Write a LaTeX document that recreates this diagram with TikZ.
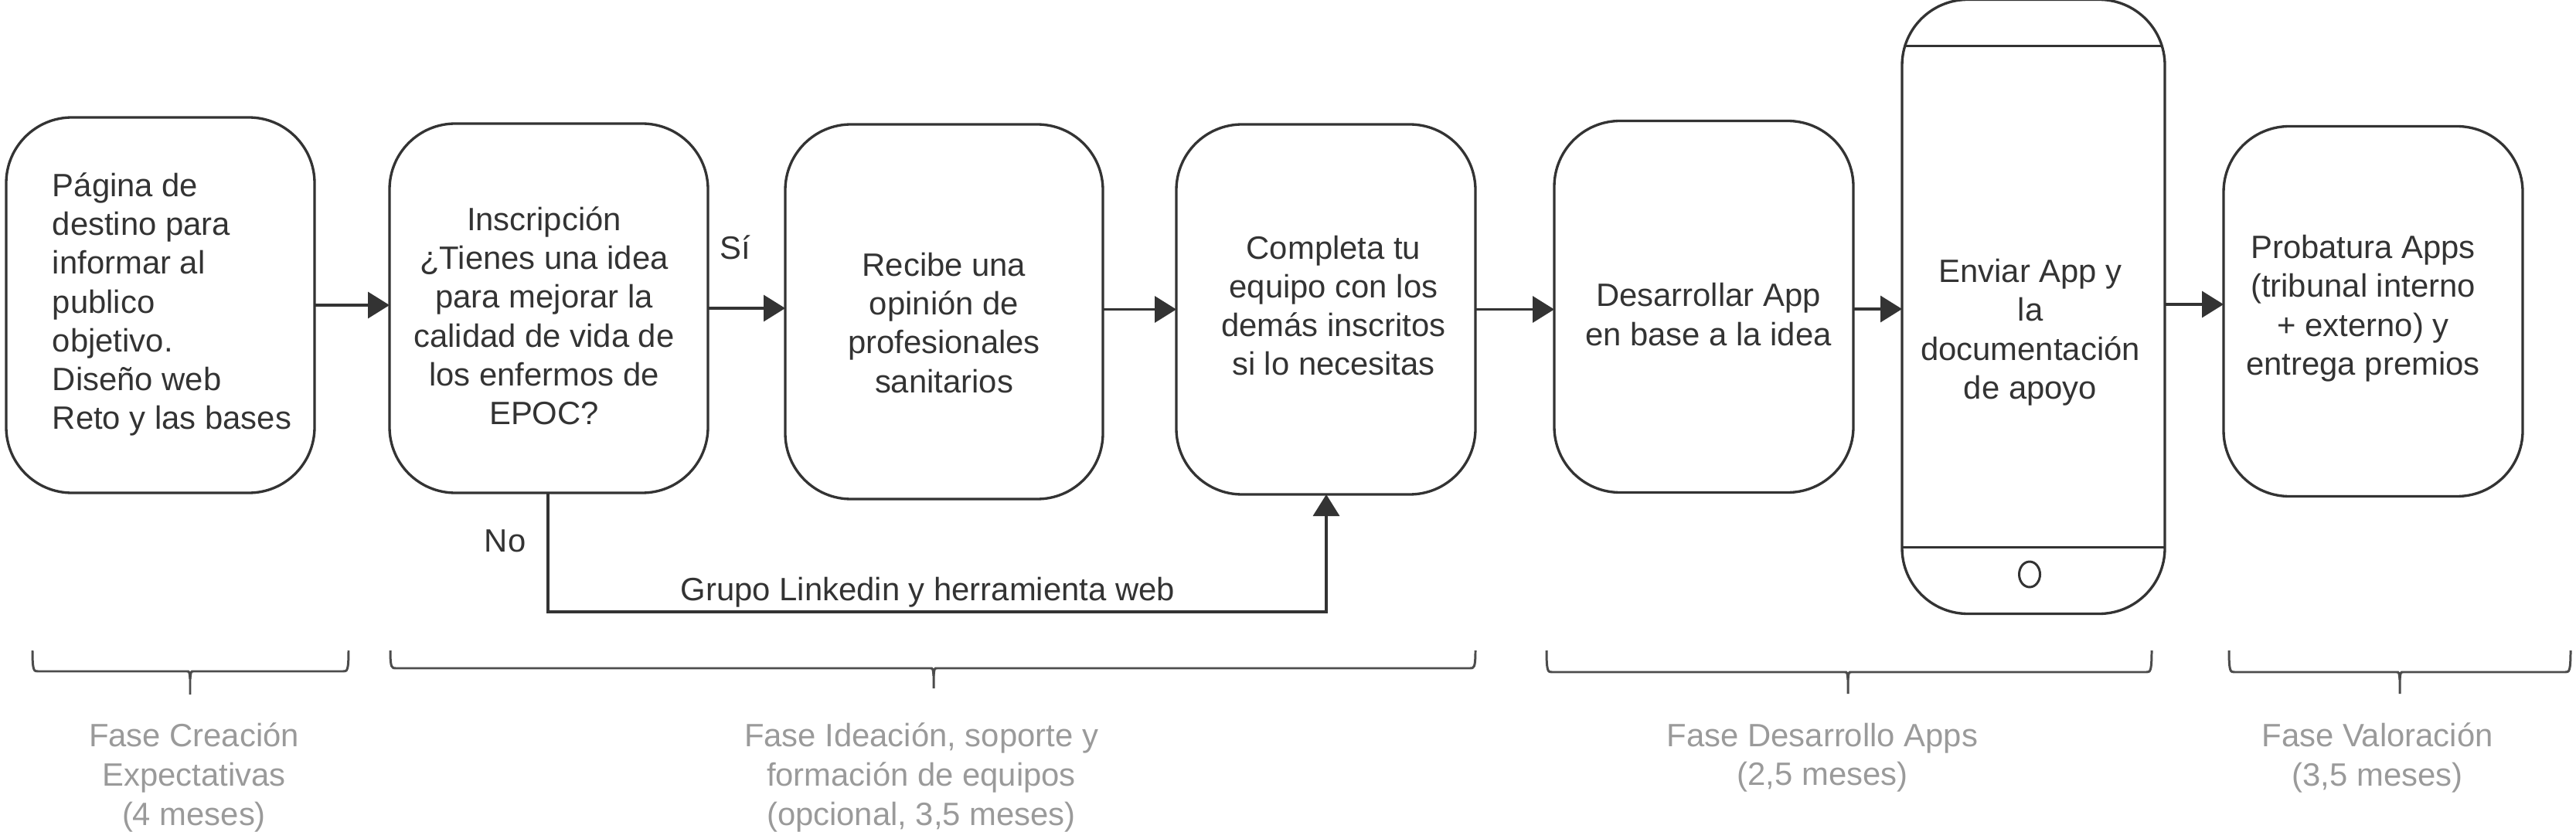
\documentclass[tikz,border=0pt]{standalone}
\usepackage{fontspec}
\setmainfont{Liberation Sans}
\usetikzlibrary{positioning,arrows.meta,shapes.geometric}
\definecolor{trazo}{HTML}{333333}
\definecolor{fase}{HTML}{9A9A9A}
\newcommand{\bajar}[1]{\rule{0pt}{\dimexpr 0.33cm+2\dimexpr #1\relax\relax}}
\newcommand{\subir}[1]{\rule[-\dimexpr 0.15cm+2\dimexpr #1\relax\relax]{0pt}{0pt}}
\newcommand{\llave}[6]{
\draw[llavetrazo] (#1,-8.42) .. controls (#1,-#4) and (#1+.02,-#4) .. (#1+.07,-#4) -- (#2-.04,-#4)
 .. controls (#2-.01,-#4) .. (#2,-#4-.1) -- (#2,-#5);
\draw[llavetrazo] (#3,-8.42) .. controls (#3,-#4) and (#3-.02,-#4) .. (#3-.07,-#4) -- (#2+.04,-#4)
 .. controls (#2+.01,-#4) .. (#2,-#4-.1);
\coordinate (#6) at (#2,-#5);
}
\tikzset{
  caja/.style={draw=trazo, line width=0.95pt, rounded corners=0.85cm, outer sep=0pt, align=center,
    text=trazo, font=\fontsize{11.9}{14.3}\selectfont},
  flecha/.style={draw=trazo, line width=0.95pt, -{Triangle[length=0.28cm,width=0.34cm]}},
  rotulo/.style={text=trazo, inner sep=0pt, font=\fontsize{11.9}{14.3}\selectfont},
  llavetrazo/.style={draw=black!70, line width=0.85pt},
  faselabel/.style={text=fase, align=center, anchor=north, inner sep=0pt, font=\fontsize{11.9}{14.5}\selectfont},
}
\begin{document}
\begin{tikzpicture}
\useasboundingbox (0,0) rectangle (33.33,-10.77);
\node [caja, minimum width=3.99cm, minimum height=4.86cm] (destino) at (2.075,-3.95)
  {\hspace*{0.3cm}\begin{tabular}{@{}l@{}}Página de\\destino para\\informar al\\publico\\objetivo.\\Diseño web\\Reto y las bases\end{tabular}};
\node [caja, minimum width=4.12cm, minimum height=4.78cm, right=0.97cm of destino, yshift=-0.04cm] (inscripcion)
  {\begin{tabular}{@{}c@{}}\bajar{0.16cm}Inscripción\\¿Tienes una idea\\para mejorar la\\calidad de vida de\\los enfermos de\\EPOC?\end{tabular}\hspace*{0.12cm}};
\node [caja, minimum width=4.11cm, minimum height=4.85cm, right=1.00cm of inscripcion, yshift=-0.045cm] (opinion)
  {\bajar{0.13cm}Recibe una\\opinión de\\profesionales\\sanitarios};
\node [caja, minimum width=3.87cm, minimum height=4.79cm, right=0.95cm of opinion, yshift=0.03cm] (equipo)
  {\hspace*{0.2cm}\begin{tabular}{@{}c@{}}Completa tu\\equipo con los\\demás inscritos\\si lo necesitas\end{tabular}};
\node [caja, minimum width=3.87cm, minimum height=4.81cm, right=1.02cm of equipo, yshift=0.035cm] (desarrollo)
  {\hspace*{0.12cm}\begin{tabular}{@{}c@{}}\bajar{0.16cm}Desarrollar App\\en base a la idea\end{tabular}};
\node [caja, minimum width=3.40cm, minimum height=7.95cm, right=0.63cm of desarrollo] (envio)
  {\begin{tabular}{@{}c@{}}\bajar{0.35cm}Enviar App y\\la\\documentación\\de apoyo\end{tabular}\hspace*{0.08cm}};
\node [caja, minimum width=3.87cm, minimum height=4.79cm, right=0.76cm of envio, yshift=-0.06cm] (probatura)
  {\begin{tabular}{@{}c@{}}Probatura Apps\\(tribunal interno\\+ externo) y\\entrega premios\subir{0.03cm}\end{tabular}\hspace*{0.26cm}};
\node [draw=trazo, line width=0.85pt, ellipse, minimum width=0.27cm, minimum height=0.33cm, inner sep=0pt,
  above=0.18cm of envio.south, yshift=0.15cm, xshift=-0.05cm] (boton) {};
\draw [draw=trazo, line width=0.95pt] ([xshift=0.04cm,yshift=-0.6cm]envio.north west) -- ([xshift=-0.04cm,yshift=-0.6cm]envio.north east);
\draw [draw=trazo, line width=0.95pt] ([xshift=0.0cm,yshift=0.86cm]envio.south west) -- ([yshift=0.86cm]envio.south east);

\draw [flecha] (destino.east) -- (destino.east -| inscripcion.west);
\draw [flecha] (inscripcion.east) -- (inscripcion.east -| opinion.west);
\draw [flecha] ([yshift=0.03cm]opinion.east) -- ([yshift=0.03cm]opinion.east -| equipo.west);
\draw [flecha] (equipo.east) -- (equipo.east -| desarrollo.west);
\draw [flecha] ([yshift=-0.03cm]desarrollo.east) -- ([yshift=-0.03cm]desarrollo.east -| envio.west);
\draw [flecha] ([yshift=0.03cm]envio.east) -- ([yshift=0.03cm]envio.east -| probatura.west);

\coordinate (esquina) at (7.09,-7.92);
\draw [flecha] (inscripcion.south -| esquina) -- (esquina) -| (17.16,-6.4);
\node [rotulo, above right=0.62cm and 0.15cm of inscripcion.east] (si) {Sí};
\node [rotulo, left=0.28cm of esquina, yshift=0.92cm] (no) {No};
\node [rotulo, above right=0.05cm and 1.71cm of esquina] (grupo) {Grupo Linkedin y herramienta web};

\llave{0.42}{2.46}{4.51}{8.69}{8.99}{puntaA}
\llave{5.05}{12.08}{19.09}{8.65}{8.91}{puntaB}
\llave{20.01}{23.91}{27.84}{8.70}{8.98}{puntaC}
\llave{28.84}{31.05}{33.26}{8.70}{8.98}{puntaD}

\node [faselabel, below=0.36cm of puntaA, xshift=0.05cm] (faseA) {Fase Creación\\Expectativas\\(4 meses)};
\node [faselabel, below=0.44cm of puntaB, xshift=-0.16cm] (faseB) {Fase Ideación, soporte y\\formación de equipos\\(opcional, 3,5 meses)};
\node [faselabel, below=0.37cm of puntaC, xshift=-0.33cm] (faseC) {Fase Desarrollo Apps\\(2,5 meses)};
\node [faselabel, below=0.37cm of puntaD, xshift=-0.29cm] (faseD) {Fase Valoración\\(3,5 meses)};
\end{tikzpicture}
\end{document}
